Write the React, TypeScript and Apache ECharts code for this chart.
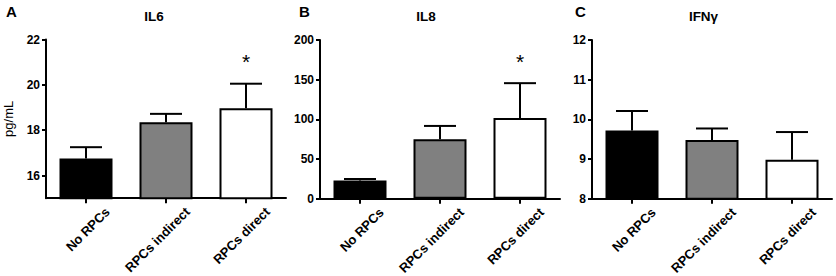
import { useEffect, useRef } from 'react';
import * as echarts from 'echarts';

// ---------- data ----------
const categories = ['No RPCs', 'RPCs indirect', 'RPCs direct'];
const barColors = ['#000000', '#808080', '#ffffff'];

const il6Mean = [16.75, 18.35, 18.97];
const il6Sem = [0.5, 0.37, 1.08];
const il6Sig = ['', '', '*'];
const il6Ticks = [16, 18, 20, 22];

const il8Mean = [23, 74.8, 101.8];
const il8Sem = [1.8, 16.9, 43.8];
const il8Sig = ['', '', '*'];
const il8Ticks = [0, 50, 100, 150, 200];

const ifngMean = [9.72, 9.48, 8.98];
const ifngSem = [0.49, 0.29, 0.7];
const ifngSig = ['', '', ''];
const ifngTicks = [8, 9, 10, 11, 12];

const panelLetters = ['A', 'B', 'C'];
const panelTitles = ['IL6', 'IL8', 'IFNγ'];
const yName = 'pg/mL';

const panels = [
  { mean: il6Mean, sem: il6Sem, sig: il6Sig, ticks: il6Ticks, min: 15, max: 22 },
  { mean: il8Mean, sem: il8Sem, sig: il8Sig, ticks: il8Ticks, min: 0, max: 200 },
  { mean: ifngMean, sem: ifngSem, sig: ifngSig, ticks: ifngTicks, min: 8, max: 12 },
];

// ---------- layout ----------
const FONT = 'Arial, "Liberation Sans", Helvetica, sans-serif';
const gridLeft = [46, 320, 592];
const gridTop = [39.5, 40, 40];
const gridWidth = 240;
const gridHeight = 158.7;
const titleX = [154, 426, 703.5];
const letterX = [6, 299, 575];

export default function App() {
  const ref = useRef<HTMLDivElement>(null);

  useEffect(() => {
    if (!ref.current) return;
    const chart = echarts.init(ref.current, undefined, { renderer: 'svg' });

    const grids: any[] = [];
    const xAxes: any[] = [];
    const yAxes: any[] = [];
    const series: any[] = [];
    const graphics: any[] = [];

    panels.forEach((p, k) => {
      grids.push({
        left: gridLeft[k],
        top: gridTop[k],
        width: gridWidth,
        height: gridHeight,
        containLabel: false,
        outerBoundsMode: 'none',
      });
      xAxes.push({
        type: 'category',
        gridIndex: k,
        data: categories,
        axisLine: { show: true, onZero: false, lineStyle: { color: '#000', width: 2 } },
        axisTick: { show: true, alignWithLabel: true, length: 5, lineStyle: { color: '#000', width: 2 } },
        axisLabel: {
          rotate: 45,
          margin: 4,
          align: 'right',
          verticalAlign: 'top',
          padding: [14, -10, 0, 0],
          color: '#000',
          fontFamily: FONT,
          fontWeight: 'bold',
          fontSize: 13,
          interval: 0,
        },
        splitLine: { show: false },
      });
      yAxes.push({
        type: 'value',
        gridIndex: k,
        min: p.min,
        max: p.max,
        axisLine: { show: true, lineStyle: { color: '#000', width: 2 } },
        axisTick: { show: true, length: 4, customValues: p.ticks, lineStyle: { color: '#000', width: 2 } },
        axisLabel: {
          customValues: p.ticks,
          margin: 6,
          color: '#000',
          fontFamily: FONT,
          fontWeight: 'bold',
          fontSize: 12,
        },
        splitLine: { show: false },
        name: k === 0 ? yName : '',
        nameLocation: 'middle',
        nameGap: 31,
        nameRotate: 90,
        nameTextStyle: { color: '#000', fontFamily: FONT, fontSize: 13 },
      });
      series.push({
        type: 'bar',
        xAxisIndex: k,
        yAxisIndex: k,
        barWidth: 53,
        data: p.mean.map((v, i) => ({
          value: v,
          itemStyle: { color: barColors[i], borderColor: '#000', borderWidth: 2 },
        })),
        z: 2,
      });
      const sig = p.sig;
      series.push({
        type: 'custom',
        xAxisIndex: k,
        yAxisIndex: k,
        z: 3,
        data: p.mean.map((v, i) => [i, v, p.sem[i]]),
        renderItem: (params: any, api: any) => {
          const i = api.value(0);
          const m = api.value(1);
          const e = api.value(2);
          const base = api.coord([i, m]);
          const top = api.coord([i, m + e]);
          const st = { stroke: '#000', lineWidth: 2 };
          const children: any[] = [
            { type: 'line', shape: { x1: base[0], y1: base[1], x2: top[0], y2: top[1] }, style: st },
            { type: 'line', shape: { x1: top[0] - 16, y1: top[1], x2: top[0] + 16, y2: top[1] }, style: st },
          ];
          const s = sig[params.dataIndex];
          if (s) {
            children.push({
              type: 'text',
              x: top[0],
              y: top[1] - 22,
              style: {
                text: s,
                fill: '#000',
                font: `21px ${FONT}`,
                align: 'center',
                verticalAlign: 'middle',
              },
            });
          }
          return { type: 'group', children };
        },
      });
      graphics.push({
        type: 'text',
        x: titleX[k],
        y: 16.2,
        style: {
          text: panelTitles[k],
          fill: '#000',
          font: `bold 13.5px ${FONT}`,
          align: 'center',
          verticalAlign: 'middle',
        },
      });
      graphics.push({
        type: 'text',
        x: letterX[k],
        y: 11,
        style: {
          text: panelLetters[k],
          fill: '#000',
          font: `bold 15px ${FONT}`,
          align: 'left',
          verticalAlign: 'middle',
        },
      });
    });

    chart.setOption({
      animation: false,
      backgroundColor: '#ffffff',
      grid: grids,
      xAxis: xAxes,
      yAxis: yAxes,
      series,
      graphic: graphics,
    });

    return () => chart.dispose();
  }, []);

  return (
    <div
      ref={ref}
      style={{ position: 'absolute', left: 0, top: 0, width: 836, height: 276, background: '#fff' }}
    />
  );
}
